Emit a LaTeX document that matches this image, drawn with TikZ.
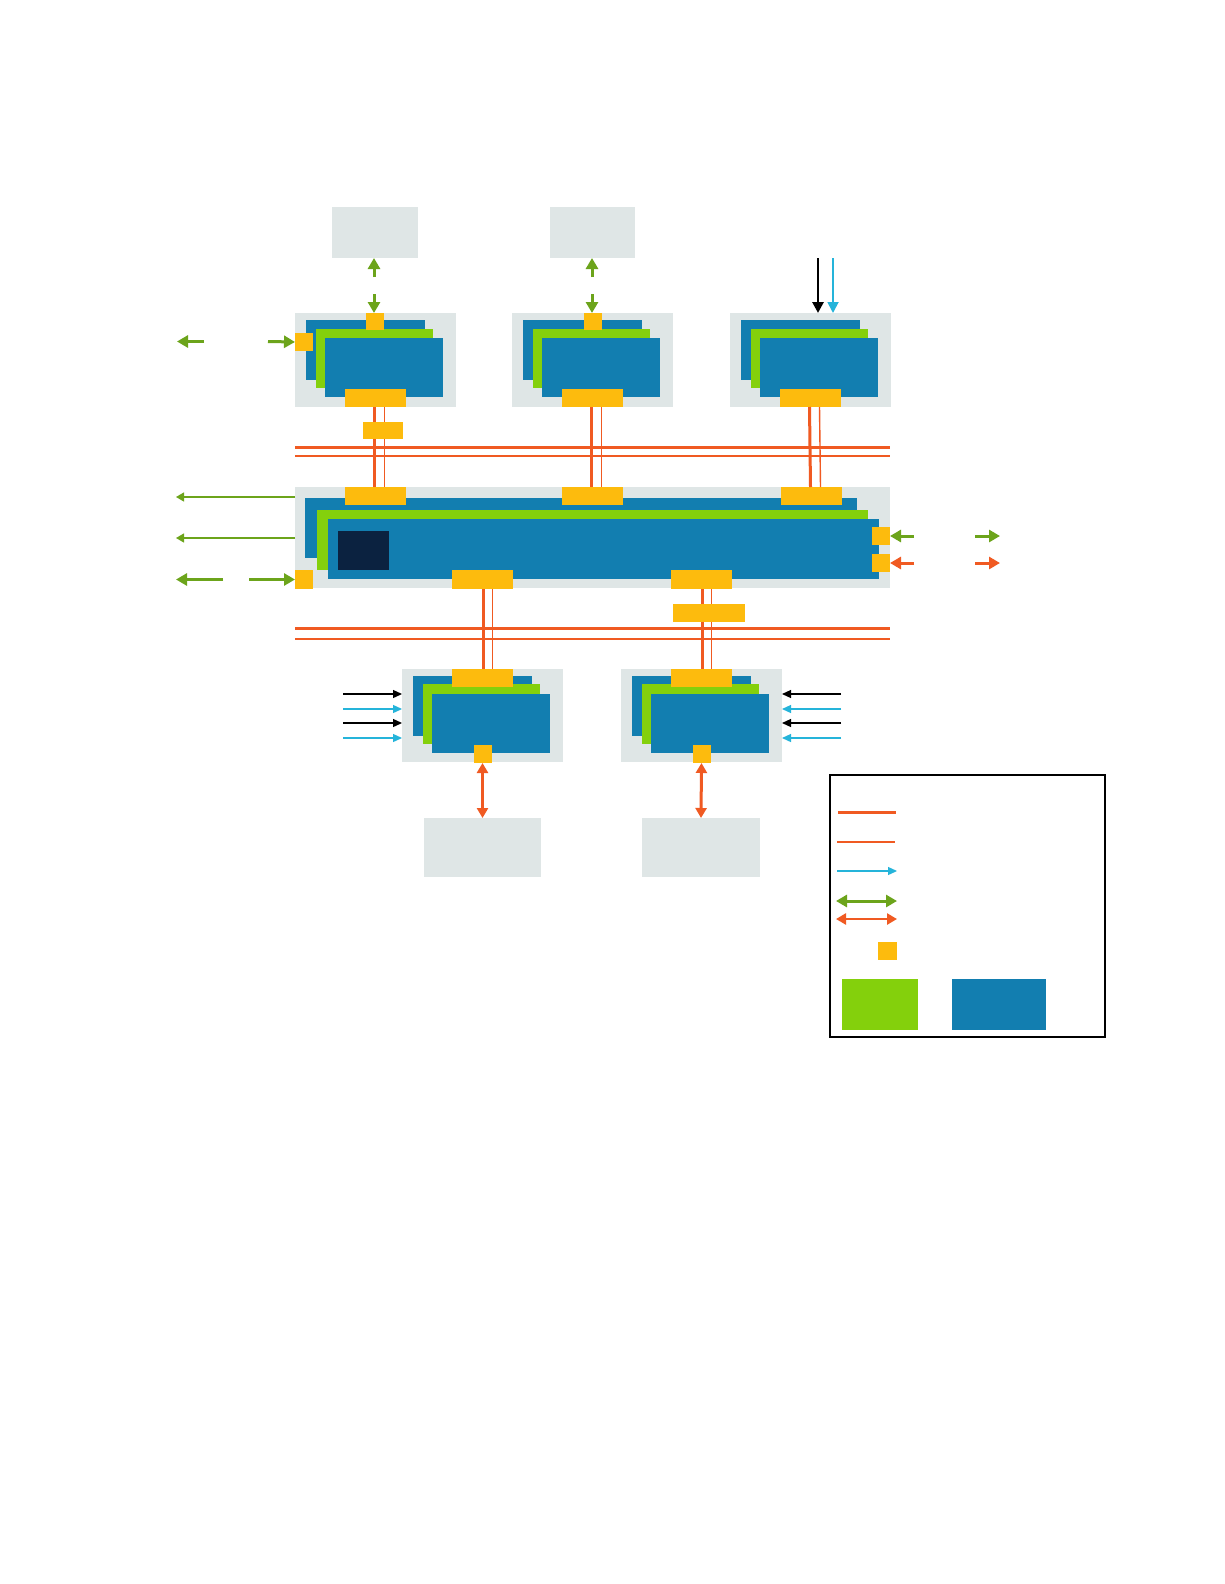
\documentclass[tikz,border=0pt]{standalone}
\usepackage{tikz}
\usetikzlibrary{arrows.meta}
\definecolor{pgrey}{HTML}{DFE6E6}
\definecolor{cblue}{HTML}{127EB0}
\definecolor{cgreen}{HTML}{84D00C}
\definecolor{cyel}{HTML}{FDBB0D}
\definecolor{corange}{HTML}{F05A22}
\definecolor{cnavy}{HTML}{0B2240}
\definecolor{agreen}{HTML}{6CA41B}
\definecolor{acyan}{HTML}{25B4DA}

\begin{document}
\begin{tikzpicture}[
  x=1pt,y=-1pt,
  wh/.style 2 args={minimum width=#1pt,minimum height=#2pt},
  blk/.style={anchor=north west,inner sep=0pt,outer sep=0pt},
  panel/.style={blk,fill=pgrey},
  bl/.style={blk,fill=cblue},
  gr/.style={blk,fill=cgreen},
  port/.style={blk,fill=cyel},
  core/.style={blk,fill=cnavy},
  bus/.style={corange,line width=3pt},
  busthin/.style={corange,line width=1.4pt},
  garr/.style={-{Triangle[length=11pt,width=12pt]},agreen,line width=3pt},
  gthin/.style={-{Triangle[length=8pt,width=9pt]},agreen,line width=1.3pt},
  oarr/.style={-{Triangle[length=11pt,width=12pt]},corange,line width=3pt},
  odbl/.style={{Triangle[length=10pt,width=11pt]}-{Triangle[length=10pt,width=11pt]},corange,line width=3pt},
  gdbl/.style={{Triangle[length=11pt,width=12pt]}-{Triangle[length=11pt,width=12pt]},agreen,line width=3pt},
  karr/.style={-{Triangle[length=9pt,width=8pt]},black,line width=1.3pt},
  carr/.style={-{Triangle[length=9pt,width=8pt]},acyan,line width=1.3pt}]
\useasboundingbox[fill=white] (0,0) rectangle (1224,1584);

% memories on top
\node[panel,wh={86}{51}] (tA) at (332,207) {};
\node[panel,wh={85}{51}] (tB) at (550,207) {};

% upper cards
\foreach \i/\x in {1/295,2/512,3/730}{
  \node[panel,wh={161}{94}] (c\i) at (\x,313) {};
  \node[bl,wh={119}{60}] (c\i k) at (\x+11,320) {};
  \node[gr,wh={117}{59}] (c\i g) at (\x+21,329) {};
  \node[bl,wh={118}{59}] (c\i f) at (\x+30,338) {};
  \node[port,wh={61}{18}] (c\i b) at (\x+50,389) {};
}
\node[port,wh={18}{17}] (c1t) at (366,313) {};
\node[port,wh={18}{17}] (c2t) at (584,313) {};
\node[port,wh={18}{18}] (c1l) at (295,333) {};

% main board
\node[panel,wh={595}{101}] (mb) at (295,487) {};
\node[bl,wh={552}{60}] (mbk) at (305,498) {};
\node[gr,wh={551}{60}] (mbg) at (317,510) {};
\node[bl,wh={551}{60}] (mbf) at (328,519) {};
\node[core,wh={51}{39}] (cpu) at (338,531) {};
\node[port,wh={61}{18}] (m1) at (345,487) {};
\node[port,wh={61}{18}] (m2) at (562,487) {};
\node[port,wh={61}{18}] (m3) at (781,487) {};
\node[port,wh={61}{19}] (m4) at (452,570) {};
\node[port,wh={61}{19}] (m5) at (671,570) {};
\node[port,wh={18}{19}] (ml) at (295,570) {};
\node[port,wh={18}{18}] (mr1) at (872,527) {};
\node[port,wh={18}{18}] (mr2) at (872,554) {};

% lower cards
\foreach \i/\x in {4/402,5/621}{
  \node[panel,wh={161}{93}] (c\i) at (\x,669) {};
  \node[bl,wh={119}{60}] (c\i k) at (\x+11,676) {};
  \node[gr,wh={117}{60}] (c\i g) at (\x+21,684) {};
  \node[bl,wh={118}{59}] (c\i f) at (\x+30,694) {};
  \node[port,wh={61}{18}] (c\i t) at (\x+50,669) {};
  \node[port,wh={18}{18}] (c\i p) at (\x+71.5,745) {};
}
\node[panel,wh={117}{59}] (d1) at (424,818) {};
\node[panel,wh={118}{59}] (d2) at (642,818) {};

% buses
\coordinate (u1) at (295,447); \coordinate (u2) at (890,447);
\coordinate (u3) at (295,456); \coordinate (u4) at (890,456);
\coordinate (w1) at (295,628); \coordinate (w2) at (890,628);
\coordinate (w3) at (295,639); \coordinate (w4) at (890,639);
\draw[bus] (u1) -- (u2); \draw[busthin] (u3) -- (u4);
\draw[bus] (w1) -- (w2); \draw[busthin] (w3) -- (w4);
\foreach \i in {1,2,3}{
  \draw[bus] ([xshift=-1pt]c\i b.south) -- ([xshift=-1pt]m\i.north);
  \draw[busthin] ([xshift=9pt]c\i b.south) -- ([xshift=9pt]m\i.north);
}
\draw[bus] ([xshift=1pt]m4.south) -- ([xshift=1pt]c4t.north);
\draw[busthin] ([xshift=10pt]m4.south) -- ([xshift=10pt]c4t.north);
\draw[bus] ([xshift=1pt]m5.south) -- ([xshift=1pt]c5t.north);
\draw[busthin] ([xshift=10pt]m5.south) -- ([xshift=10pt]c5t.north);
\node[port,wh={40}{17}] (x1) at (363,422) {};
\node[port,wh={72}{18}] (x2) at (673,604) {};

% memory links
\coordinate (a1) at (374,277); \coordinate (a2) at (374,294);
\coordinate (a3) at (592,277); \coordinate (a4) at (592,294);
\draw[garr] (a1) -- (a1 |- tA.south); \draw[garr] (a2) -- (a2 |- c1t.north);
\draw[garr] (a3) -- (a3 |- tB.south); \draw[garr] (a4) -- (a4 |- c2t.north);
\draw[odbl] (c4p.south) -- (d1.north);
\draw[odbl] (c5p.south) -- (d2.north);

% side signals
\coordinate (b1) at (268,341.5); \coordinate (b2) at (204,341.5); \coordinate (b3) at (177,341.5);
\draw[garr] (b1) -- (c1l.west); \draw[garr] (b2) -- (b3);
\coordinate (k1) at (818,258); \coordinate (k2) at (833,258);
\draw[-{Triangle[length=11pt,width=11pt]},line width=2.8pt] (k1) -- (k1 |- c3.north);
\draw[-{Triangle[length=11pt,width=11pt]},acyan,line width=1.8pt] (k2) -- (k2 |- c3.north);
\coordinate (e1) at (176,497); \coordinate (e2) at (176,538);
\draw[gthin] (mb.west |- e1) -- (e1); \draw[gthin] (mb.west |- e2) -- (e2);
\coordinate (e3) at (223,579.5); \coordinate (e4) at (176,579.5); \coordinate (e5) at (249,579.5);
\draw[garr] (e3) -- (e4); \draw[garr] (e5) -- (ml.west);
\coordinate (r1) at (914,536); \coordinate (r2) at (975,536); \coordinate (r3) at (1000,536);
\coordinate (r4) at (914,563); \coordinate (r5) at (975,563); \coordinate (r6) at (1000,563);
\draw[garr] (r1) -- (mr1.east); \draw[garr] (r2) -- (r3);
\draw[oarr] (r4) -- (mr2.east); \draw[oarr] (r5) -- (r6);
\foreach \y/\s in {694/karr,709/carr,723/karr,738/carr}{
  \coordinate (sl) at (343,\y); \coordinate (sr) at (841,\y);
  \draw[\s] (sl) -- (sl -| c4.west);
  \draw[\s] (sr) -- (sr -| c5.east);
}

% legend
\node[blk,draw=black,line width=1.4pt,wh={275}{262}] (leg) at (830,775) {};
\coordinate (l1) at (838,812); \coordinate (l2) at (896,812);
\coordinate (l3) at (837,842); \coordinate (l4) at (895,842);
\coordinate (l5) at (837,871); \coordinate (l6) at (897,871);
\coordinate (l7) at (836,901); \coordinate (l8) at (897,901);
\coordinate (l9) at (836,919); \coordinate (l10) at (897,919);
\draw[bus] (l1) -- (l2);
\draw[busthin,line width=2pt] (l3) -- (l4);
\draw[carr] (l5) -- (l6);
\draw[gdbl] (l7) -- (l8);
\draw[odbl,line width=2.6pt] (l9) -- (l10);
\node[port,wh={19}{18}] (lp) at (878,942) {};
\node[gr,wh={76}{51}] (lg) at (842,979) {};
\node[bl,wh={94}{51}] (lb) at (952,979) {};
\end{tikzpicture}
\end{document}
